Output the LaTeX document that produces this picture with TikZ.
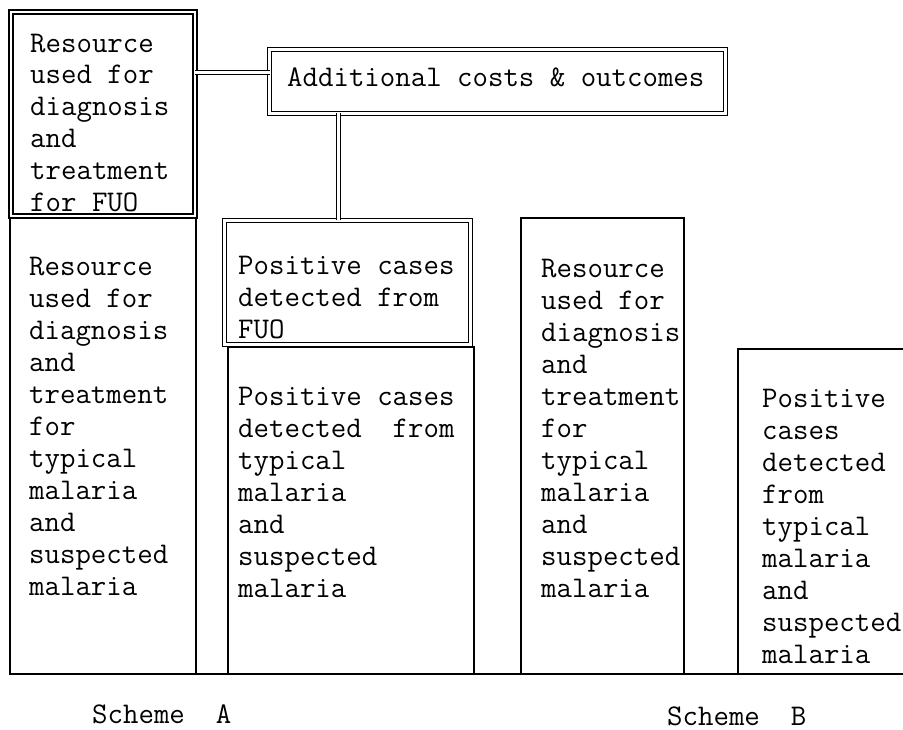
\documentclass[tikz,border=0pt]{standalone}
\usepackage{fontspec}
\begin{document}
\begin{tikzpicture}[x=1pt,y=-1pt]
  % Define styles for boxes and texts
  \tikzstyle{plainbox} = [anchor=north west, draw, rectangle,
  line width=1.8pt, inner sep=0pt, outer sep=0pt]
  \tikzstyle{doublebox} = [plainbox, line width=1.6pt, double,
  double distance=2.6pt]
  \tikzstyle{link} = [line width=1.4pt, double, double distance=2.2pt]
  \tikzstyle{txt} = [anchor=base west, align=left, inner sep=0pt,
  font=\fontsize{30}{32}\selectfont\ttfamily\addfontfeatures{FakeBold=1}]

  \useasboundingbox (0,0) rectangle (903,730);

  % Scheme A boxes
  \node[doublebox, minimum width=184pt, minimum height=204pt] (fuo) at (11,12) {};
  \node[plainbox, minimum width=186pt, minimum height=456pt] (typA) at (10,218) {};
  \node[doublebox, minimum width=246pt, minimum height=124pt] (posfuo) at (224.5,220.5) {};
  \node[plainbox, minimum width=246pt, minimum height=327pt] (posA) at (228,347) {};

  % Additional box at top
  \node[doublebox, minimum width=456pt, minimum height=64pt] (add) at (269.5,49.5) {};

  % Scheme B boxes
  \node[plainbox, minimum width=163pt, minimum height=456pt] (typB) at (521,218) {};
  \node[plainbox, minimum width=182pt, minimum height=325pt] (posB) at (738,349) {};

  % Ground line
  \draw[line width=1.8pt] (typA.south west) -- (posB.south east);

  % Connections
  \draw[link] ([yshift=9pt]add.west) -- ([yshift=9pt]add.west -| fuo.east);
  \draw[link] ([xshift=-9pt]posfuo.north) -- ([xshift=-9pt]posfuo.north |- add.south);

  % Texts in the boxes (placed at the baseline of their last line)
  \node[txt] (fuotext) at (30,212) {Resource\\used for\\diagnosis\\and\\treatment\\for FUO};
  \node[txt] (typAtext) at (29,595) {Resource\\used for\\diagnosis\\and\\treatment\\for\\typical\\malaria\\and\\suspected\\malaria};
  \node[txt] (addtext) at (287,87) {Additional costs \& outcomes};
  \node[txt] (posfuotext) at (238,338) {Positive cases\\detected from\\FUO};
  \node[txt] (posAtext) at (238,597) {Positive cases\\detected~~from\\typical\\malaria\\and\\suspected\\malaria};
  \node[txt] (typBtext) at (541,597) {Resource\\used for\\diagnosis\\and\\treatment\\for\\typical\\malaria\\and\\suspected\\malaria};
  \node[txt] (posBtext) at (762,663) {Positive\\cases\\detected\\from\\typical\\malaria\\and\\suspected\\malaria};

  % Scheme names at bottom
  \node[txt] (schemeA) at (92,723) {Scheme~~A};
  \node[txt] (schemeB) at (667,725) {Scheme~~B};
\end{tikzpicture}
\end{document}
